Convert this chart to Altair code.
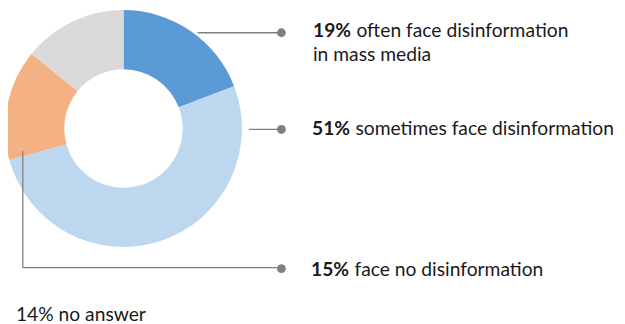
import altair as alt
import pandas as pd

# ---- data ----
categories = ["often face disinformation in mass media", "sometimes face disinformation",
              "face no disinformation", "no answer"]
values = [19, 51, 15, 14]
colors = ["#5B9BD5", "#BDD7EE", "#F4B183", "#D9D9D9"]

df = pd.DataFrame({"category": categories, "value": values, "order": list(range(len(values)))})

FONT = "Lato"
FS = 19.5
TXT = "#1a1a1a"
LINE = "#808080"

# page -> view offset (8px page margin)
def px(x):
    return x - 8

cx, cy = px(125), px(128)

donut = alt.Chart(df).mark_arc(innerRadius=60, outerRadius=120).encode(
    theta=alt.Theta("value:Q", stack=True),
    order=alt.Order("order:Q"),
    color=alt.Color("category:N", scale=alt.Scale(domain=categories, range=colors), legend=None),
    x=alt.value(cx), y=alt.value(cy),
)

base = alt.Chart(pd.DataFrame({"a": [0]}))

def hrule(x1, x2, y):
    return base.mark_rule(color=LINE, strokeWidth=1.3).encode(
        x=alt.value(px(x1)), x2=alt.value(px(x2)), y=alt.value(px(y)))

def vrule(x, y1, y2):
    return base.mark_rule(color=LINE, strokeWidth=1.3).encode(
        x=alt.value(px(x)), y=alt.value(px(y1)), y2=alt.value(px(y2)))

def dot(x, y):
    return base.mark_point(filled=True, color=LINE, size=80, opacity=1).encode(
        x=alt.value(px(x)), y=alt.value(px(y)))

def txt(x, y, s, bold=False):
    return base.mark_text(align="left", baseline="middle", font=FONT, fontSize=FS,
                          fontWeight="bold" if bold else "normal", color=TXT).encode(
        x=alt.value(px(x)), y=alt.value(px(y)), text=alt.value(s))

pcts = [f"{v}%" for v in values]

layers = [
    donut,
    hrule(200, 285, 31), dot(285, 31),
    hrule(252, 285, 129), dot(285, 129),
    vrule(23, 151, 269), hrule(23, 285, 269), dot(285, 270),
    txt(317, 29, pcts[0], True), txt(361, 29, "often face disinformation"),
    txt(317, 54, "in mass media"),
    txt(316, 129, pcts[1], True), txt(360, 129, categories[1]),
    txt(315, 271, pcts[2], True), txt(359, 271, categories[2]),
    txt(16, 317, f"{pcts[3]} {categories[3]}"),
]

chart = alt.layer(*layers).properties(
    width=617, height=316, padding=0, autosize=alt.AutoSizeParams(type="none")
).configure_view(stroke=None)

chart.save("out.html", embed_options={"renderer": "svg", "actions": False})
